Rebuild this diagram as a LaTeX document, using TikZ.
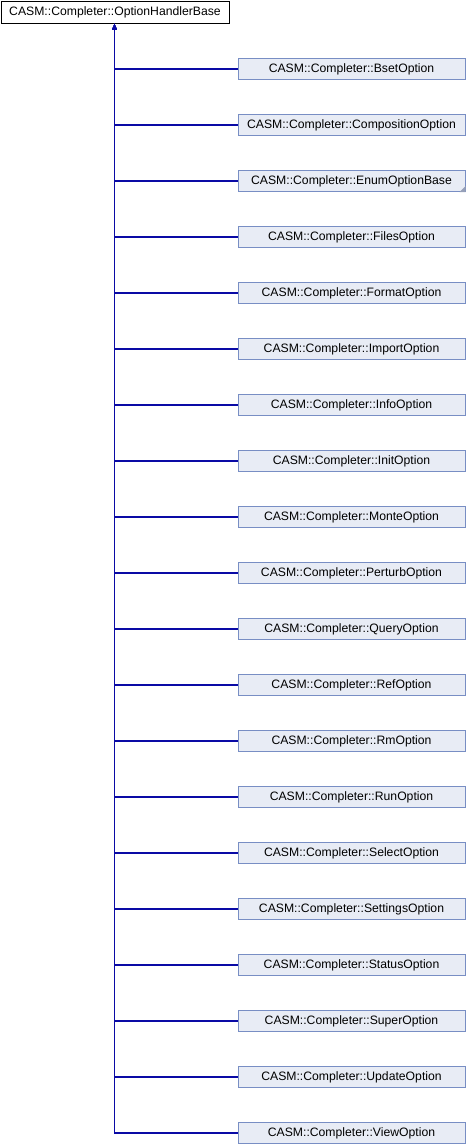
\documentclass[tikz,border=0pt]{standalone}
\usepackage{fontspec}
\setmainfont{Liberation Sans}
\usetikzlibrary{arrows.meta}
\definecolor{edgeblue}{RGB}{10,10,165}
\definecolor{boxfill}{RGB}{232,236,245}
\definecolor{boxline}{RGB}{120,142,196}
\definecolor{foldgray}{RGB}{150,160,185}
\tikzset{
  basebox/.style={draw=black, fill=white, line width=1pt, minimum width=228pt, minimum height=22pt, inner sep=0pt, font=\fontsize{12.2}{14}\selectfont},
  childbox/.style={draw=boxline, fill=boxfill, line width=1pt, minimum width=227pt, minimum height=21pt, inner sep=0pt, font=\fontsize{12.2}{14}\selectfont},
  inherit/.style={draw=edgeblue, line width=1.1pt, -{Latex[length=6pt,width=5pt]}}
}
\begin{document}
\begin{tikzpicture}[x=1pt,y=-1pt]
\useasboundingbox (0,0) rectangle (466,1144);
\node[basebox] (base) at (115,12) {CASM::Completer::OptionHandlerBase};
\coordinate (trunk) at (114.5,23.5);
\foreach \nm/\txt [count=\i from 0] in {
  Bset/BsetOption, Composition/CompositionOption, EnumOptionBase/EnumOptionBase,
  Files/FilesOption, Format/FormatOption, Import/ImportOption, Info/InfoOption,
  Init/InitOption, Monte/MonteOption, Perturb/PerturbOption, Query/QueryOption,
  Ref/RefOption, Rm/RmOption, Run/RunOption, Select/SelectOption,
  Settings/SettingsOption, Status/StatusOption, Super/SuperOption,
  Update/UpdateOption, View/ViewOption} {
  \node[childbox] (\nm) at (351.5,{69+56*\i}) {CASM::Completer::\txt};
  \draw[inherit] (\nm.west) -| (trunk);
}
\fill[foldgray] ([xshift=-6pt]EnumOptionBase.south east) -- ([yshift=6pt]EnumOptionBase.south east) -- (EnumOptionBase.south east) -- cycle;
\end{tikzpicture}
\end{document}
